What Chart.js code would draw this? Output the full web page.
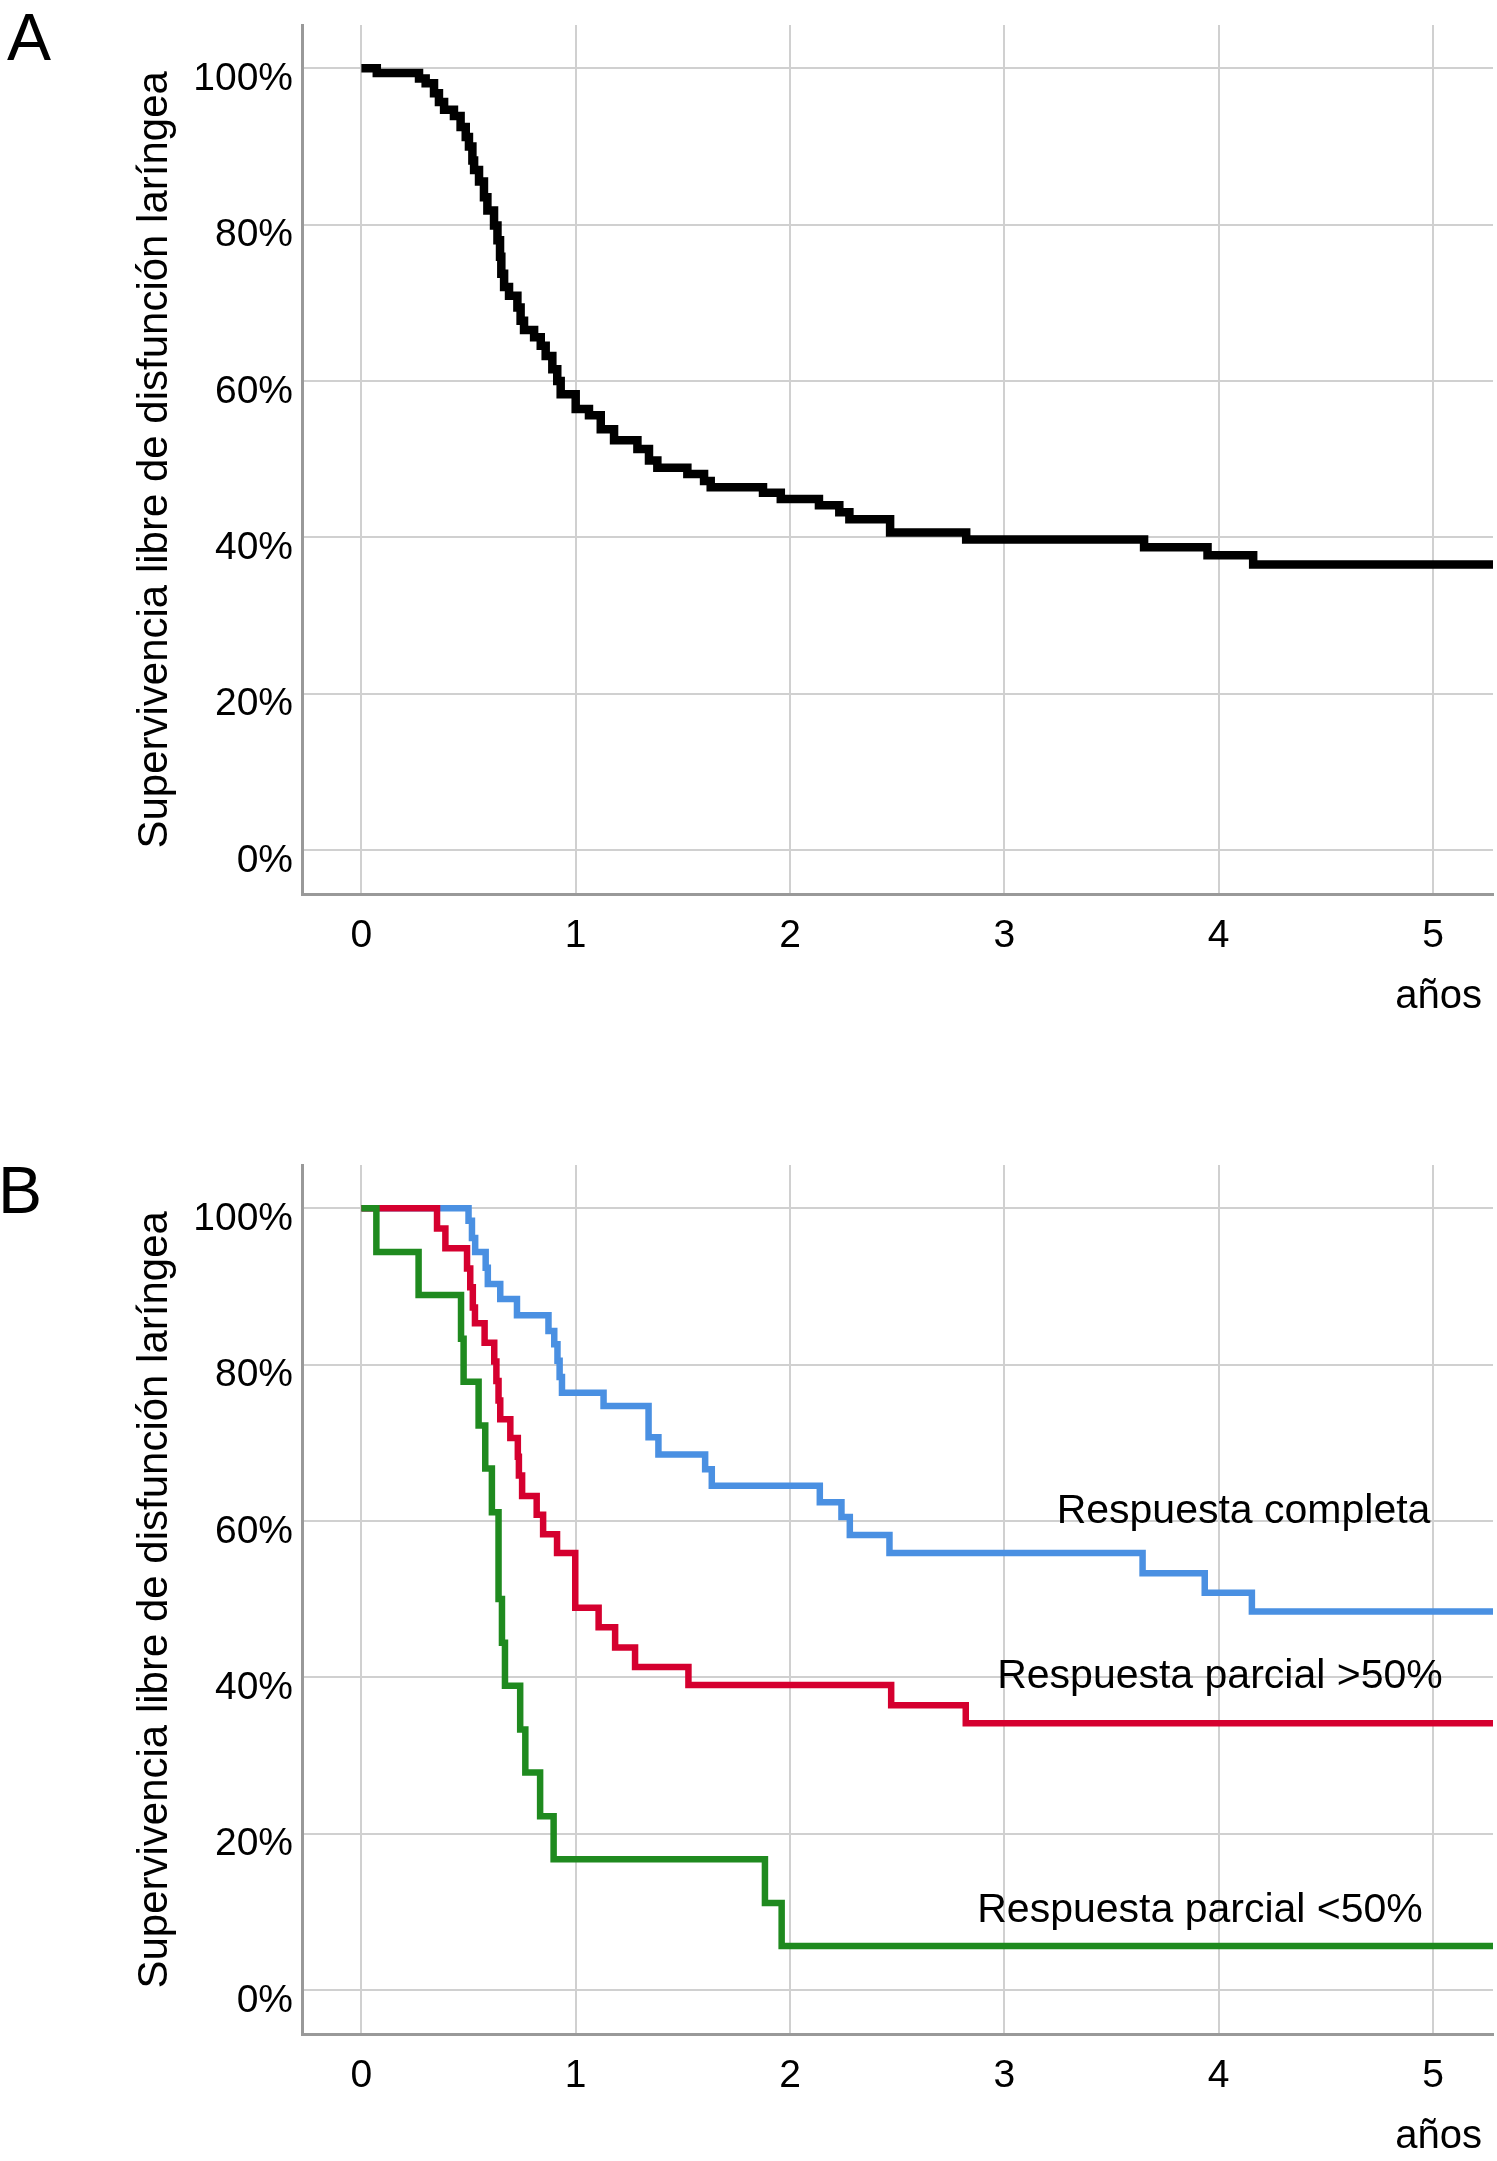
<!DOCTYPE html>
<html>
<head>
<meta charset="utf-8">
<script src="https://cdn.jsdelivr.net/npm/chart.js@4.4.1/dist/chart.umd.min.js"></script>
<style>
html,body{margin:0;padding:0;background:#fff;}
#wrap{position:relative;width:1497px;height:2161px;overflow:hidden;background:#fff;}
canvas{position:absolute;left:0;}
.panel{position:absolute;font-family:"Liberation Sans",Arial,sans-serif;font-size:66px;line-height:66px;color:#000;}
</style>
</head>
<body>
<div id="wrap">
  <canvas id="cA" width="1497" height="1140" style="top:0px"></canvas>
  <canvas id="cB" width="1497" height="1021" style="top:1140px"></canvas>
  <div class="panel" style="left:7px;top:4px;">A</div>
  <div class="panel" style="left:-2px;top:1157px;">B</div>
</div>
<script>
// ---------- Data ----------
const ticksX = [0, 1, 2, 3, 4, 5];
const ticksY = [0, 20, 40, 60, 80, 100];

// Panel A: global curve
const tiemposA = [0, 0.072, 0.269, 0.30, 0.339, 0.362, 0.386, 0.432, 0.463, 0.487, 0.502, 0.518, 0.526, 0.549, 0.572, 0.588, 0.619, 0.635, 0.647, 0.653, 0.666, 0.689, 0.728, 0.743, 0.759, 0.806, 0.837, 0.86, 0.891, 0.914, 0.93, 1.0, 1.062, 1.117, 1.179, 1.288, 1.342, 1.381, 1.521, 1.599, 1.63, 1.874, 1.957, 2.135, 2.23, 2.277, 2.467, 2.822, 3.652, 3.948, 4.161, 5.28];
const supervivenciaA = [100, 99.4, 98.7, 98.1, 96.8, 95.7, 94.7, 93.9, 92.5, 91.2, 90.0, 88.2, 87.0, 85.5, 83.5, 81.8, 79.9, 78.0, 75.9, 73.7, 72.0, 70.9, 69.4, 67.7, 66.5, 65.6, 64.5, 63.2, 61.5, 60.0, 58.3, 56.4, 55.6, 53.8, 52.4, 51.3, 49.8, 48.9, 48.1, 47.2, 46.4, 45.7, 44.9, 44.1, 43.2, 42.3, 40.6, 39.7, 38.7, 37.7, 36.5, 36.5];

// Panel B: by response group
const nombresGrupos = ['Respuesta completa', 'Respuesta parcial >50%', 'Respuesta parcial <50%'];

const tiemposCompleta = [0, 0.50, 0.516, 0.531, 0.58, 0.59, 0.648, 0.726, 0.873, 0.90, 0.915, 0.925, 0.936, 1.13, 1.34, 1.386, 1.604, 1.635, 2.139, 2.24, 2.279, 2.464, 3.645, 3.935, 4.155, 5.28];
const supervivenciaCompleta = [100, 98.4, 96.2, 94.4, 92.4, 90.3, 88.4, 86.3, 84.3, 82.6, 80.5, 78.4, 76.4, 74.7, 70.7, 68.5, 66.6, 64.5, 62.4, 60.5, 58.2, 55.9, 53.3, 50.8, 48.4, 48.4];

const tiemposParcialMayor = [0, 0.353, 0.392, 0.493, 0.508, 0.52, 0.53, 0.575, 0.62, 0.63, 0.64, 0.648, 0.695, 0.73, 0.735, 0.75, 0.818, 0.848, 0.913, 0.998, 1.107, 1.184, 1.277, 1.526, 2.472, 2.82, 5.28];
const supervivenciaParcialMayor = [100, 97.4, 94.9, 92.3, 89.9, 87.3, 85.3, 82.8, 80.4, 77.9, 75.4, 73.0, 70.6, 68.2, 65.8, 63.2, 60.8, 58.3, 55.9, 48.9, 46.4, 43.8, 41.3, 39.0, 36.4, 34.1, 34.1];

const tiemposParcialMenor = [0, 0.07, 0.267, 0.465, 0.477, 0.547, 0.578, 0.609, 0.64, 0.656, 0.67, 0.741, 0.765, 0.834, 0.897, 1.883, 1.961, 5.28];
const supervivenciaParcialMenor = [100, 94.4, 88.9, 83.3, 77.8, 72.2, 66.7, 61.1, 50.0, 44.4, 38.9, 33.3, 27.8, 22.2, 16.7, 11.1, 5.6, 5.6];

// ---------- Helpers ----------
const FONT = '"Liberation Sans", Arial, Helvetica, sans-serif';
function puntos(t, s) { return t.map((x, i) => ({ x: x, y: s[i] })); }

function opciones(alto) {
  const grid = { color: '#d0d0d0', lineWidth: 2, drawTicks: false };
  const border = { display: true, color: '#999999', width: 3 };
  return {
    responsive: false,
    animation: false,
    devicePixelRatio: 1,
    layout: { padding: { top: 25, left: 0, right: 4, bottom: alto - 894.7 - 120 } },
    plugins: { legend: { display: false }, tooltip: { enabled: false } },
    elements: { point: { radius: 0, hoverRadius: 0 }, line: { borderJoinStyle: 'miter', borderCapStyle: 'butt', tension: 0 } },
    scales: {
      x: {
        type: 'linear', min: -0.277, max: 5.28,
        afterBuildTicks: s => { s.ticks = ticksX.map(v => ({ value: v })); },
        afterFit: s => { s.height = 120; s.paddingLeft = 0; s.paddingRight = 0; },
        ticks: { font: { family: FONT, size: 39 }, color: '#000', padding: 18, maxRotation: 0, autoSkip: false, callback: v => String(v) },
        grid: grid,
        border: border,
        title: { display: true, text: 'años ', align: 'end', color: '#000', font: { family: FONT, size: 40, lineHeight: 0.8 }, padding: { top: 0, bottom: 2 } }
      },
      y: {
        type: 'linear', min: -5.745, max: 105.54,
        afterBuildTicks: s => { s.ticks = ticksY.map(v => ({ value: v })); },
        afterFit: s => { s.width = 302; s.paddingTop = 0; s.paddingBottom = 0; },
        ticks: { font: { family: FONT, size: 39 }, color: '#000', padding: 9, labelOffset: 11, callback: v => v + '%' },
        grid: grid,
        border: border,
        title: { display: true, text: 'Supervivencia libre de disfunción laríngea', color: '#000', font: { family: FONT, size: 42 }, padding: { top: 130, bottom: 0 } }
      }
    }
  };
}

// plugin drawing the group names inside panel B, positioned through the scales
const etiquetasPlugin = {
  id: 'etiquetas',
  afterDatasetsDraw(chart, args, opts) {
    if (!opts || !opts.items) return;
    const ctx = chart.ctx, xs = chart.scales.x, ys = chart.scales.y;
    ctx.save();
    ctx.font = '41px ' + FONT;
    ctx.fillStyle = '#000';
    ctx.textAlign = 'center';
    ctx.textBaseline = 'alphabetic';
    opts.items.forEach(it => ctx.fillText(it.text, xs.getPixelForValue(it.x), ys.getPixelForValue(it.y)));
    ctx.restore();
  }
};

// ---------- Panel A ----------
const optA = opciones(1140);
new Chart(document.getElementById('cA'), {
  type: 'line',
  data: {
    datasets: [{
      label: 'Supervivencia libre de disfunción laríngea',
      data: puntos(tiemposA, supervivenciaA),
      stepped: 'before', borderColor: '#000', borderWidth: 8.5, fill: false
    }]
  },
  options: optA
});

// ---------- Panel B ----------
const optB = opciones(1021);
const posEtiquetaX = [4.116, 4.006, 3.913];
const posEtiquetaY = [59.7, 38.6, 8.7];
optB.plugins.etiquetas = { items: nombresGrupos.map((t, i) => ({ text: t, x: posEtiquetaX[i], y: posEtiquetaY[i] })) };
new Chart(document.getElementById('cB'), {
  type: 'line',
  data: {
    datasets: [
      { label: nombresGrupos[2], data: puntos(tiemposParcialMenor, supervivenciaParcialMenor), stepped: 'before', borderColor: '#1f8a1f', borderWidth: 6.5, fill: false, order: 1 },
      { label: nombresGrupos[1], data: puntos(tiemposParcialMayor, supervivenciaParcialMayor), stepped: 'before', borderColor: '#d5002f', borderWidth: 6.5, fill: false, order: 2 },
      { label: nombresGrupos[0], data: puntos(tiemposCompleta, supervivenciaCompleta), stepped: 'before', borderColor: '#4a90e2', borderWidth: 6.5, fill: false, order: 3 }
    ]
  },
  options: optB,
  plugins: [etiquetasPlugin]
});
</script>
</body>
</html>
